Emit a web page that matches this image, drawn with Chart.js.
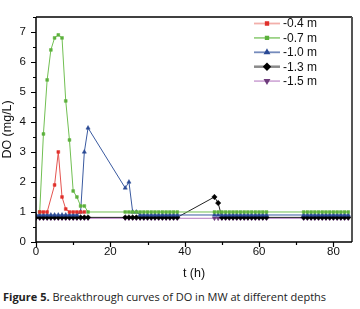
<!DOCTYPE html>
<html><head><meta charset="utf-8">
<script src="https://cdn.jsdelivr.net/npm/chart.js@4.4.1/dist/chart.umd.min.js"></script>
<style>
html,body{margin:0;padding:0;background:#fff;}
#wrap{position:relative;width:360px;height:285px;}
#cap{position:absolute;left:3px;top:289px;font-family:"Open Sans",sans-serif;font-size:11px;color:#222;white-space:nowrap;}
</style></head><body>
<div id="wrap"><canvas id="c" width="360" height="285"></canvas></div>
<div id="cap"><b>Figure 5.</b> Breakthrough curves of DO in MW at different depths</div>
<script>
const seriesNames = ["-0.4 m","-0.7 m","-1.0 m","-1.3 m","-1.5 m"];
const xTicks = [0,20,40,60,80];
const yTicks = [0,1,2,3,4,5,6,7];

const t04 = [1,2,3,5,6,7,8,9,10,11,12,13];
const do04 = [1.0,1.0,1.0,1.9,3.0,1.5,1.1,1.0,1.0,1.0,1.0,1.0];

const t07 = [1,2,3,4,5,6,7,8,9,10,11,12,13,14,
  24,25,26,27,28,29,30,31,32,33,34,35,36,37,38,
  48,49,50,51,52,53,54,55,56,57,58,59,60,61,62,
  72,73,74,75,76,77,78,79,80,81,82,83,84];
const do07 = [1.0,3.6,5.4,6.4,6.8,6.9,6.8,4.7,3.4,1.7,1.5,1.2,1.2,1.0,
  1.0,1.0,1.0,1.0,1.0,1.0,1.0,1.0,1.0,1.0,1.0,1.0,1.0,1.0,1.0,
  1.0,1.0,1.0,1.0,1.0,1.0,1.0,1.0,1.0,1.0,1.0,1.0,1.0,1.0,1.0,
  1.0,1.0,1.0,1.0,1.0,1.0,1.0,1.0,1.0,1.0,1.0,1.0,1.0];

const t10 = [0,1,2,3,4,5,6,7,8,9,10,11,12,13,14,
  24,25,26,27,28,29,30,31,32,33,34,35,36,37,38,
  48,49,50,51,52,53,54,55,56,57,58,59,60,61,62,
  72,73,74,75,76,77,78,79,80,81,82,83,84];
const do10 = [0.9,0.9,0.9,0.9,0.9,0.9,0.9,0.9,0.9,0.9,0.9,0.9,1.0,3.0,3.8,
  1.8,2.0,1.0,1.0,0.9,0.9,0.9,0.9,0.9,0.9,0.9,0.9,0.9,0.9,0.9,
  0.9,0.9,0.9,0.9,0.9,0.9,0.9,0.9,0.9,0.9,0.9,0.9,0.9,0.9,0.9,
  0.9,0.9,0.9,0.9,0.9,0.9,0.9,0.9,0.9,0.9,0.9,0.9,0.9];

const t13 = [0,1,2,3,4,5,6,7,8,9,10,11,12,13,14,
  24,25,26,27,28,29,30,31,32,33,34,35,36,37,38,
  48,49,50,51,52,53,54,55,56,57,58,59,60,61,62,
  72,73,74,75,76,77,78,79,80,81,82,83,84];
const do13 = [0.82,0.82,0.82,0.82,0.82,0.82,0.82,0.82,0.82,0.82,0.82,0.82,0.82,0.82,0.82,
  0.82,0.82,0.82,0.82,0.82,0.82,0.82,0.82,0.82,0.82,0.82,0.82,0.82,0.82,0.82,
  1.5,1.3,0.82,0.82,0.82,0.82,0.82,0.82,0.82,0.82,0.82,0.82,0.82,0.82,0.82,
  0.82,0.82,0.82,0.82,0.82,0.82,0.82,0.82,0.82,0.82,0.82,0.82,0.82];

const t15 = [0,1,2,3,4,5,6,7,8,9,10,11,12,13,14,
  24,25,26,27,28,29,30,31,32,33,34,35,36,37,38,
  48,49,50,51,52,53,54,55,56,57,58,59,60,61,62,
  72,73,74,75,76,77,78,79,80,81,82,83,84];
const do15 = [0.79,0.79,0.79,0.79,0.79,0.79,0.79,0.79,0.79,0.79,0.79,0.79,0.79,0.79,0.79,
  0.79,0.79,0.79,0.79,0.79,0.79,0.79,0.79,0.79,0.79,0.79,0.79,0.79,0.79,0.79,
  0.79,0.79,0.79,0.79,0.79,0.79,0.79,0.79,0.79,0.79,0.79,0.79,0.79,0.79,0.79,
  0.79,0.79,0.79,0.79,0.79,0.79,0.79,0.79,0.79,0.79,0.79,0.79,0.79];

const pts = (t,v) => t.map((x,i)=>({x:x,y:v[i]}));

const styles = [
  {line:'#e4534f', pt:'#e0302b', shape:'rect', r:2, rot:0, legLine:'rgba(232,110,100,0.55)'},
  {line:'#71bf52', pt:'#5cb13c', shape:'rect', r:2, rot:0, legLine:'rgba(113,191,82,0.7)'},
  {line:'#3a5aa0', pt:'#2a4a95', shape:'triangle', r:2.4, rot:0, legLine:'rgba(58,90,160,0.7)'},
  {line:'#222', pt:'#000', shape:'rectRot', r:2.7, rot:0, legLine:'rgba(60,60,60,0.6)'},
  {line:'#b57ac2', pt:'#6e3c7c', shape:'triangle', r:2.4, rot:180, legLine:'rgba(181,122,194,0.6)'}
];
const dataArr = [pts(t04,do04),pts(t07,do07),pts(t10,do10),pts(t13,do13),pts(t15,do15)];

const datasets = dataArr.map((d,i)=>({
  label: seriesNames[i], data: d,
  borderColor: styles[i].line, borderWidth: 1,
  pointBackgroundColor: styles[i].pt, pointBorderColor: styles[i].pt,
  pointBorderWidth: 0.5,
  pointStyle: styles[i].shape, pointRadius: styles[i].r, pointRotation: styles[i].rot,
  tension: 0
}));

const framePlugin = {
  id:'frame',
  afterDraw(chart){
    const ctx = chart.ctx, a = chart.chartArea;
    const xs = chart.scales.x, ys = chart.scales.y;
    ctx.save();
    ctx.strokeStyle='#000'; ctx.lineWidth=1.5;
    ctx.beginPath();
    ctx.moveTo(a.left, a.top); ctx.lineTo(a.right, a.top);
    ctx.stroke();
    ctx.strokeStyle='#555'; ctx.lineWidth=2;
    ctx.beginPath(); ctx.moveTo(a.right, a.top); ctx.lineTo(a.right, a.bottom); ctx.stroke();
    ctx.strokeStyle='#000'; ctx.lineWidth=1.5;
    ctx.beginPath();
    ctx.moveTo(a.left, a.top); ctx.lineTo(a.left, a.bottom); ctx.lineTo(a.right, a.bottom);
    ctx.stroke();
    ctx.lineWidth=1.2;
    ctx.beginPath();
    for(let v=0; v<=7.5; v+=0.5){
      const y = Math.round(ys.getPixelForValue(v))+0.5;
      const len = (v%1===0)?5:3;
      ctx.moveTo(a.left, y); ctx.lineTo(a.left-len, y);
    }
    for(let v=0; v<=85; v+=10){
      const x = Math.round(xs.getPixelForValue(v))+0.5;
      const len = (v%20===0)?5:3;
      ctx.moveTo(x, a.bottom); ctx.lineTo(x, a.bottom+len);
    }
    ctx.stroke();
    const lx0=254, lx1=280, tx=283, y0=23.5, dy=14.4;
    ctx.font='12px "Liberation Sans", Arial, sans-serif';
    ctx.textBaseline='middle';
    chart.data.datasets.forEach((ds,i)=>{
      const y = y0 + i*dy;
      ctx.strokeStyle = styles[i].legLine; ctx.lineWidth = (i===3)?2.5:1.8;
      ctx.beginPath(); ctx.moveTo(lx0,y); ctx.lineTo(lx1,y); ctx.stroke();
      ctx.save();
      ctx.strokeStyle = styles[i].pt; ctx.fillStyle = styles[i].pt;
      Chart.helpers.drawPoint(ctx, {pointStyle:styles[i].shape, rotation:styles[i].rot, radius:styles[i].r*0.9, borderWidth:0.5}, 267, y);
      ctx.restore();
      ctx.fillStyle='#111';
      ctx.fillText(ds.label, tx, y+0.5);
    });
    ctx.restore();
  }
};

new Chart(document.getElementById('c'), {
  type:'line',
  data:{datasets},
  options:{
    responsive:false, animation:false,
    layout:{padding:{top:7,right:8,left:0,bottom:4}},
    plugins:{legend:{display:false}, tooltip:{enabled:false}},
    scales:{
      x:{type:'linear', min:0, max:85,
        afterBuildTicks(s){ s.ticks = xTicks.map(v=>({value:v})); },
        afterFit(s){ s.height = 39; },
        grid:{display:false, drawTicks:false},
        border:{display:false},
        ticks:{padding:3, color:'#111', font:{family:'"Liberation Sans", Arial, sans-serif', size:11.5}, maxRotation:0},
        title:{display:true, text:'t (h)', color:'#111', padding:{top:0,bottom:0}, font:{family:'"Liberation Sans", Arial, sans-serif', size:12.5}}
      },
      y:{type:'linear', min:0, max:7.5,
        afterBuildTicks(s){ s.ticks = yTicks.map(v=>({value:v})); },
        afterFit(s){ s.width = 36; },
        grid:{display:false, drawTicks:false},
        border:{display:false},
        ticks:{padding:10, color:'#111', font:{family:'"Liberation Sans", Arial, sans-serif', size:11.5}},
        title:{display:true, text:'DO (mg/L)', color:'#111', padding:{top:0,bottom:0}, font:{family:'"Liberation Sans", Arial, sans-serif', size:12.5}}
      }
    }
  },
  plugins:[framePlugin]
});
</script>
</body></html>
